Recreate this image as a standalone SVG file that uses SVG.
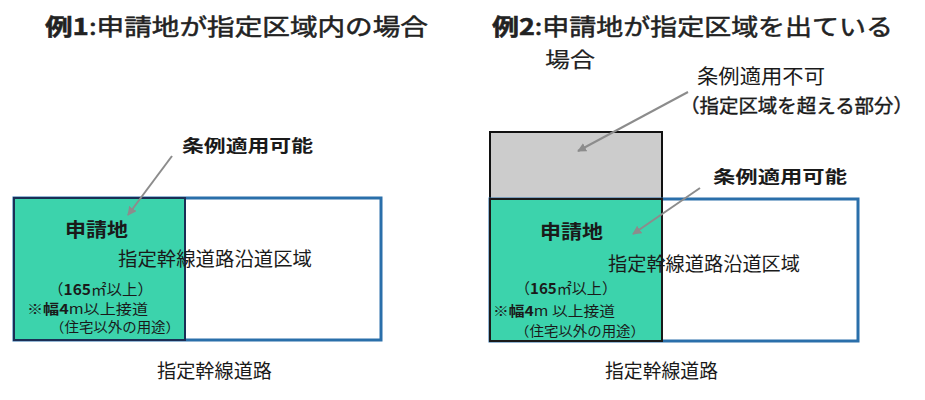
<svg xmlns="http://www.w3.org/2000/svg" width="925" height="400" viewBox="0 0 925 400">
<style>
text{font-family:"Noto Sans CJK JP","Noto Sans",sans-serif;fill:#1a1a1a}
.title{font-size:23px;font-weight:normal;fill:#222;stroke:#222;stroke-width:0.5}
.b{font-weight:bold}
.lbl{font-size:17px;font-weight:bold}
.big{font-size:19px;font-weight:normal}
.small{font-size:13.5px}
.area{font-size:15px}
.zone{fill:#fff;stroke:#2A6FAA;stroke-width:3}
.site{fill:#3CD3AC;stroke:#1B2E55;stroke-width:2}
.gray{fill:#CCCCCC;stroke:#111;stroke-width:2}
.arrow{stroke:#8C8C8C;stroke-width:2;fill:none;marker-end:url(#ah)}
</style>
<defs>
<marker id="ah" viewBox="0 0 10 10" refX="9" refY="5" markerWidth="4.5" markerHeight="4.5" orient="auto">
<path d="M0,0 L10,5 L0,10 z" fill="#8C8C8C"/>
</marker>
</defs>
<rect width="925" height="400" fill="#fff"/>
<text class="title" x="45" y="35" textLength="383" lengthAdjust="spacingAndGlyphs"><tspan class="b">例1</tspan>:申請地が指定区域内の場合</text>
<text class="title" x="492" y="35" textLength="401" lengthAdjust="spacingAndGlyphs"><tspan class="b">例2</tspan>:申請地が指定区域を出ている</text>
<text class="title" x="545" y="67" textLength="50" lengthAdjust="spacingAndGlyphs" style="font-size:21px;stroke-width:0.2">場合</text>

<g id="ex1-zone">
<rect class="zone" x="14" y="198" width="367" height="142"/>
</g>
<g id="ex1-site">
<rect class="site" x="14" y="198" width="171" height="142"/>
<text class="lbl" x="65" y="237" style="font-size:19px" textLength="63" lengthAdjust="spacingAndGlyphs">申請地</text>
<text class="area" x="48" y="295" textLength="105" lengthAdjust="spacingAndGlyphs">（<tspan class="b">165</tspan>㎡以上）</text>
<text class="small" x="27" y="314" textLength="121" lengthAdjust="spacingAndGlyphs">※<tspan class="b">幅4</tspan>m以上接道</text>
<text class="small" x="50" y="332" textLength="130" lengthAdjust="spacingAndGlyphs">（住宅以外の用途）</text>
</g>
<g id="ex1-zone-label">
<text class="big" x="118" y="266" textLength="194" lengthAdjust="spacingAndGlyphs">指定幹線道路沿道区域</text>
</g>
<g id="ex1-callout">
<text class="lbl" x="182" y="152" textLength="131" lengthAdjust="spacingAndGlyphs">条例適用可能</text>
</g>
<g id="ex1-road">
<text class="big" x="157" y="378" textLength="115" lengthAdjust="spacingAndGlyphs">指定幹線道路</text>
</g>

<g id="ex2-excess">
<rect class="gray" x="490" y="132" width="172" height="67"/>
</g>
<g id="ex2-zone">
<rect class="zone" x="490" y="199" width="368" height="142"/>
</g>
<g id="ex2-site">
<rect class="site" x="490" y="199" width="172" height="142" style="stroke:#1a1a1a"/>
<text class="lbl" x="540" y="239" style="font-size:19px" textLength="63" lengthAdjust="spacingAndGlyphs">申請地</text>
<text class="area" x="515" y="294" textLength="102" lengthAdjust="spacingAndGlyphs">（<tspan class="b">165</tspan>㎡以上）</text>
<text class="small" x="493" y="316" textLength="122" lengthAdjust="spacingAndGlyphs">※<tspan class="b">幅4</tspan>m 以上接道</text>
<text class="small" x="515" y="336" textLength="130" lengthAdjust="spacingAndGlyphs">（住宅以外の用途）</text>
</g>
<g id="ex2-zone-label">
<text class="big" x="608" y="271" textLength="192" lengthAdjust="spacingAndGlyphs">指定幹線道路沿道区域</text>
</g>
<g id="ex2-callout-ng">
<text class="big" x="697" y="84" style="font-size:20px" textLength="128" lengthAdjust="spacingAndGlyphs">条例適用不可</text>
<text class="big" x="680" y="113" style="stroke:#1a1a1a;stroke-width:0.4" textLength="233" lengthAdjust="spacingAndGlyphs">（指定区域を超える部分）</text>
</g>
<g id="ex2-callout-ok">
<text class="lbl" x="713" y="183" textLength="134" lengthAdjust="spacingAndGlyphs">条例適用可能</text>
</g>
<g id="ex2-road">
<text class="big" x="605" y="378" textLength="113" lengthAdjust="spacingAndGlyphs">指定幹線道路</text>
</g>

<g id="connectors">
<line class="arrow" x1="172" y1="156" x2="128" y2="215"/>
<line class="arrow" x1="688" y1="92" x2="578" y2="151"/>
<line class="arrow" x1="700" y1="188" x2="633" y2="234"/>
</g>
</svg>
